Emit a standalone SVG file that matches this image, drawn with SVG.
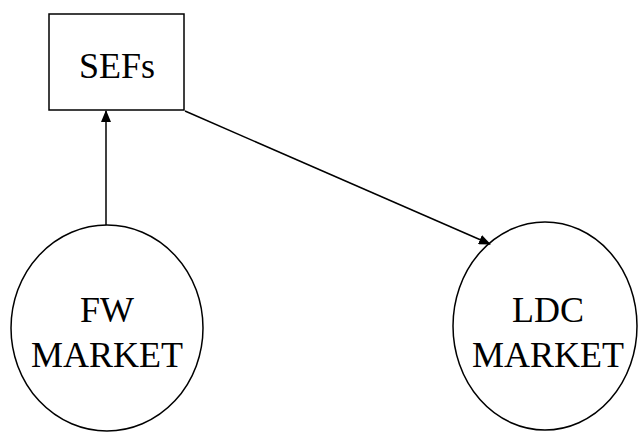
<svg xmlns="http://www.w3.org/2000/svg" width="638" height="432" viewBox="0 0 638 432">
<defs>
<style>
.shape{fill:#fff;stroke:#000;stroke-width:1.5}
.lbl{font-family:"Liberation Serif","Times New Roman",serif;font-size:36px;fill:#000;text-anchor:middle}
.edge{stroke:#000;stroke-width:1.5;fill:none;marker-end:url(#arr)}
</style>
<marker id="arr" markerWidth="12" markerHeight="10" refX="11" refY="5" orient="auto" markerUnits="userSpaceOnUse">
<path d="M0,0 L12,5 L0,10 Z" fill="#000"/>
</marker>
</defs>
<rect width="638" height="432" fill="#fff"/>
<g id="sefs">
<rect class="shape" x="49" y="14" width="135" height="96"/>
<text class="lbl" x="117" y="78">SEFs</text>
</g>
<g id="fw-market">
<ellipse class="shape" cx="107" cy="328" rx="96" ry="103"/>
<text class="lbl" x="107" y="322">FW</text>
<text class="lbl" x="107" y="367">MARKET</text>
</g>
<g id="ldc-market">
<ellipse class="shape" cx="545" cy="326" rx="92" ry="104"/>
<text class="lbl" x="548" y="322">LDC</text>
<text class="lbl" x="548" y="367">MARKET</text>
</g>
<g id="connectors">
<line class="edge" x1="106" y1="225" x2="106" y2="111"/>
<line class="edge" x1="185" y1="111" x2="490" y2="244"/>
</g>
</svg>
